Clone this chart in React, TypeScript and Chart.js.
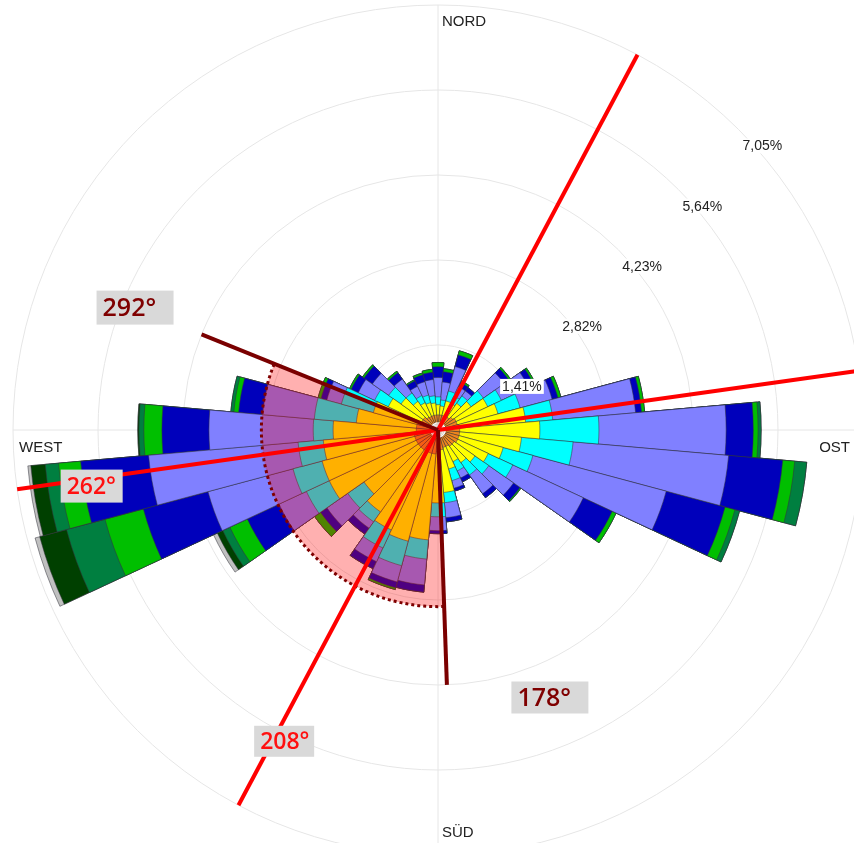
import React, { useEffect, useRef } from 'react';
import { Chart, registerables } from 'chart.js';

Chart.register(...registerables);

// ---- data ----
const DIRECTIONS = [0, 10, 20, 30, 40, 50, 60, 70, 80, 90, 100, 110, 120, 130, 140, 150, 160, 170,
  180, 190, 200, 210, 220, 230, 240, 250, 260, 270, 280, 290, 300, 310, 320, 330, 340, 350];
const TICKS = [0, 1.41, 2.82, 4.23, 5.64, 7.05];
const TICK_LABELS = ['', '1,41%', '2,82%', '4,23%', '5,64%', '7,05%'];
const CARDINALS = ['NORD', 'OST', 'SÜD', 'WEST'];
const CALM = 0.13;

// frequency (%) per direction and speed class
const ORANGE = [0.12, 0.12, 0.12, 0.13, 0.13, 0.17, 0.20, 0.20, 0.23, 0.23, 0.23, 0.23, 0.23, 0.20, 0.20, 0.17, 0.17, 0.20,
  0.23, 0.27, 0.27, 0.27, 0.27, 0.27, 0.27, 0.27, 0.27, 0.23, 0.23, 0.20, 0.17, 0.17, 0.13, 0.12, 0.12, 0.12];
const YELLOW = [0.17, 0.15, 0.25, 0.23, 0.28, 0.37, 0.58, 0.70, 1.10, 1.33, 1.03, 0.76, 0.56, 0.42, 0.33, 0.28, 0.37, 0.71,
  0.85, 1.43, 1.51, 1.43, 1.26, 1.10, 1.59, 1.59, 1.51, 1.38, 1.00, 0.78, 0.61, 0.45, 0.32, 0.25, 0.22, 0.20];
const CYAN = [0.13, 0.10, 0.17, 0.13, 0.15, 0.25, 0.25, 0.38, 0.45, 0.98, 0.86, 0.51, 0.45, 0.28, 0.25, 0.17, 0.20, 0.17,
  0.23, 0.32, 0.42, 0.33, 0.20, 0.33, 0.42, 0.50, 0.42, 0.33, 0.70, 0.55, 0.25, 0.25, 0.17, 0.13, 0.13, 0.12];
const VIOLET = [0.32, 0.30, 0.42, 0.17, 0.10, 0.42, 0.50, 0.55, 1.38, 2.11, 2.59, 2.29, 1.29, 0.50, 0.38, 0.13, 0.13, 0.25,
  0.23, 0.43, 0.28, 0.25, 0.13, 0.42, 0.50, 1.46, 2.49, 1.73, 0.86, 0.25, 0.30, 0.33, 0.28, 0.17, 0.23, 0.27];
const BLUE = [0.18, 0.17, 0.20, 0.08, 0.07, 0.10, 0.10, 0.10, 0.10, 0.45, 0.90, 1.01, 0.53, 0.13, 0.08, 0.07, 0.05, 0.07,
  0.05, 0.12, 0.10, 0.13, 0.12, 0.13, 0.58, 1.11, 1.13, 0.78, 0.40, 0.10, 0.13, 0.17, 0.13, 0.10, 0.12, 0.12];
const GREEN = [0.07, 0.05, 0.07, 0.03, 0, 0.03, 0.03, 0.05, 0.05, 0.08, 0.20, 0.17, 0.07, 0.02, 0, 0, 0, 0,
  0, 0, 0.03, 0, 0, 0.12, 0.32, 0.66, 0.37, 0.30, 0.08, 0.05, 0.03, 0.03, 0.03, 0.02, 0.03, 0.05];
const SEAGREEN = [0, 0, 0, 0, 0, 0, 0, 0, 0, 0.05, 0.20, 0.08, 0, 0, 0, 0, 0, 0,
  0, 0, 0, 0, 0, 0, 0.13, 0.66, 0.22, 0.08, 0.05, 0, 0, 0, 0, 0, 0, 0];
const DARKGREEN = [0, 0, 0, 0, 0, 0, 0, 0, 0, 0, 0, 0, 0, 0, 0, 0, 0, 0,
  0, 0, 0, 0, 0, 0, 0.10, 0.46, 0.24, 0.02, 0, 0, 0, 0, 0, 0, 0, 0];
const GRAY = [0, 0, 0, 0, 0, 0, 0, 0, 0, 0, 0, 0, 0, 0, 0, 0, 0, 0,
  0, 0, 0, 0, 0, 0, 0.07, 0.08, 0.05, 0, 0, 0, 0, 0, 0, 0, 0, 0];

const CLASSES = [
  { label: 'Klasse 1', data: ORANGE, color: '#f0861e' },
  { label: 'Klasse 2', data: YELLOW, color: '#ffff00' },
  { label: 'Klasse 3', data: CYAN, color: '#00ffff' },
  { label: 'Klasse 4', data: VIOLET, color: '#8080ff' },
  { label: 'Klasse 5', data: BLUE, color: '#0000bb' },
  { label: 'Klasse 6', data: GREEN, color: '#00bf00' },
  { label: 'Klasse 7', data: SEAGREEN, color: '#007f40' },
  { label: 'Klasse 8', data: DARKGREEN, color: '#004000' },
  { label: 'Klasse 9', data: GRAY, color: '#c0c0c0' },
];

// annotations (angles in compass degrees, radii as scale values)
const SECTOR_FROM = 178;
const SECTOR_TO = 292;
const SECTOR_VALUE = 2.93;
const RED_AXES = [28, 82];
const DARK_RAYS = [178, 292];
const DARK_RAY_VALUE = 4.23;
const TAGS = [
  { text: '292°', angle: 292, value: 5.42, w: 77, h: 34, color: '#7f0000', size: 25 },
  { text: '178°', angle: 157.3, value: 4.81, w: 77, h: 32, color: '#7f0000', size: 25 },
  { text: '262°', angle: 260.8, value: 5.82, w: 62, h: 33, color: '#ff1010', size: 23 },
  { text: '208°', angle: 206.3, value: 5.76, w: 60, h: 31, color: '#ff1010', size: 23 },
];

const SANS = '"Liberation Sans", Arial, sans-serif';

function rad(deg: number) {
  return ((deg - 90) * Math.PI) / 180;
}

function pt(scale: any, deg: number, value: number) {
  const r = scale.getDistanceFromCenterForValue(value);
  const a = (deg * Math.PI) / 180;
  return { x: scale.xCenter + r * Math.sin(a), y: scale.yCenter - r * Math.cos(a) };
}

const decorPlugin = {
  id: 'decor',
  beforeDatasetsDraw(chart: any) {
    const s = chart.scales.r;
    const ctx = chart.ctx;
    const R = s.drawingArea;
    ctx.save();
    ctx.strokeStyle = '#e6e6e6';
    ctx.lineWidth = 1;
    ctx.beginPath();
    ctx.moveTo(s.xCenter, s.yCenter - R);
    ctx.lineTo(s.xCenter, s.yCenter + R);
    ctx.moveTo(s.xCenter - R, s.yCenter);
    ctx.lineTo(s.xCenter + R, s.yCenter);
    ctx.stroke();
    ctx.restore();
  },
  afterDatasetsDraw(chart: any) {
    const s = chart.scales.r;
    const ctx = chart.ctx;
    const xc = s.xCenter;
    const yc = s.yCenter;
    const R = s.drawingArea;
    ctx.save();
    // shaded sector
    const sr = s.getDistanceFromCenterForValue(SECTOR_VALUE);
    ctx.beginPath();
    ctx.moveTo(xc, yc);
    ctx.arc(xc, yc, sr, rad(SECTOR_FROM), rad(SECTOR_TO));
    ctx.closePath();
    ctx.fillStyle = 'rgba(255,0,0,0.31)';
    ctx.fill();
    ctx.beginPath();
    ctx.arc(xc, yc, sr, rad(SECTOR_FROM), rad(SECTOR_TO));
    ctx.setLineDash([3, 3]);
    ctx.lineWidth = 3;
    ctx.strokeStyle = '#7f0000';
    ctx.stroke();
    ctx.setLineDash([]);

    // red axes through center
    ctx.strokeStyle = '#ff0000';
    ctx.lineWidth = 4;
    RED_AXES.forEach((a) => {
      const p1 = pt(s, a, TICKS[TICKS.length - 1]);
      const p2 = pt(s, a + 180, TICKS[TICKS.length - 1]);
      ctx.beginPath();
      ctx.moveTo(p1.x, p1.y);
      ctx.lineTo(p2.x, p2.y);
      ctx.stroke();
    });
    // dark red rays
    ctx.strokeStyle = '#7a0000';
    ctx.lineWidth = 4;
    DARK_RAYS.forEach((a) => {
      const p = pt(s, a, DARK_RAY_VALUE);
      ctx.beginPath();
      ctx.moveTo(xc, yc);
      ctx.lineTo(p.x, p.y);
      ctx.stroke();
    });

    // tick labels
    ctx.font = '14px ' + SANS;
    ctx.textAlign = 'left';
    ctx.textBaseline = 'alphabetic';
    TICKS.forEach((v, i) => {
      if (!TICK_LABELS[i]) return;
      const p = pt(s, 45, v);
      const tw = ctx.measureText(TICK_LABELS[i]).width;
      ctx.fillStyle = '#ffffff';
      ctx.fillRect(p.x + 2, p.y + 9, tw + 4, 15);
      ctx.fillStyle = '#222222';
      ctx.fillText(TICK_LABELS[i], p.x + 4, p.y + 21);
    });

    // cardinal labels
    ctx.font = '15px ' + SANS;
    ctx.fillStyle = '#222222';
    ctx.textAlign = 'left';
    ctx.fillText(CARDINALS[0], xc + 4, yc - R + 21);
    ctx.fillText(CARDINALS[2], xc + 4, yc + R - 18);
    ctx.fillText(CARDINALS[3], xc - R + 6, yc + 22);
    ctx.textAlign = 'right';
    ctx.fillText(CARDINALS[1], xc + R - 13, yc + 22);

    // angle tags
    TAGS.forEach((t) => {
      const c = pt(s, t.angle, t.value);
      ctx.fillStyle = '#d9d9d9';
      ctx.fillRect(c.x - t.w / 2, c.y - t.h / 2, t.w, t.h);
      ctx.fillStyle = t.color;
      ctx.font = '600 ' + t.size + 'px "Open Sans", "Noto Sans", sans-serif';
      ctx.textAlign = 'left';
      ctx.textBaseline = 'middle';
      ctx.fillText(t.text, c.x - t.w / 2 + 6, c.y + 1);
    });
    ctx.restore();
  },
};

export default function App() {
  const ref = useRef<HTMLCanvasElement | null>(null);

  useEffect(() => {
    if (!ref.current) return;
    let acc = DIRECTIONS.map(() => CALM);
    const datasets: any[] = [
      { label: 'Calm', data: acc.slice(), backgroundColor: '#ffffff', borderWidth: 0 },
    ];
    CLASSES.forEach((c) => {
      acc = acc.map((a, i) => a + c.data[i]);
      datasets.push({
        label: c.label,
        data: acc.slice(),
        backgroundColor: c.color,
        borderColor: 'rgba(50,50,60,0.65)',
        borderWidth: 0.8,
      });
    });

    const chart = new Chart(ref.current, {
      type: 'polarArea',
      data: { labels: DIRECTIONS.map((d) => d + '°'), datasets },
      options: {
        responsive: false,
        animation: false,
        layout: { padding: { left: 13, top: 5, right: 0, bottom: 0 } },
        plugins: { legend: { display: false }, tooltip: { enabled: false } },
        events: [],
        scales: {
          r: {
            min: 0,
            max: TICKS[TICKS.length - 1],
            startAngle: -5,
            afterBuildTicks: (scale: any) => {
              scale.ticks = TICKS.map((v) => ({ value: v }));
            },
            ticks: { display: false },
            grid: { color: '#e6e6e6', lineWidth: 1, circular: true },
            angleLines: { display: false },
            pointLabels: { display: false },
          },
        },
      } as any,
      plugins: [decorPlugin],
    });
    return () => chart.destroy();
  }, []);

  return (
    <div style={{ position: 'fixed', left: 0, top: 0, width: 854, height: 843, overflow: 'hidden', background: '#fff' }}>
      <canvas ref={ref} width={863} height={855} style={{ display: 'block', width: 863, height: 855 }} />
    </div>
  );
}
